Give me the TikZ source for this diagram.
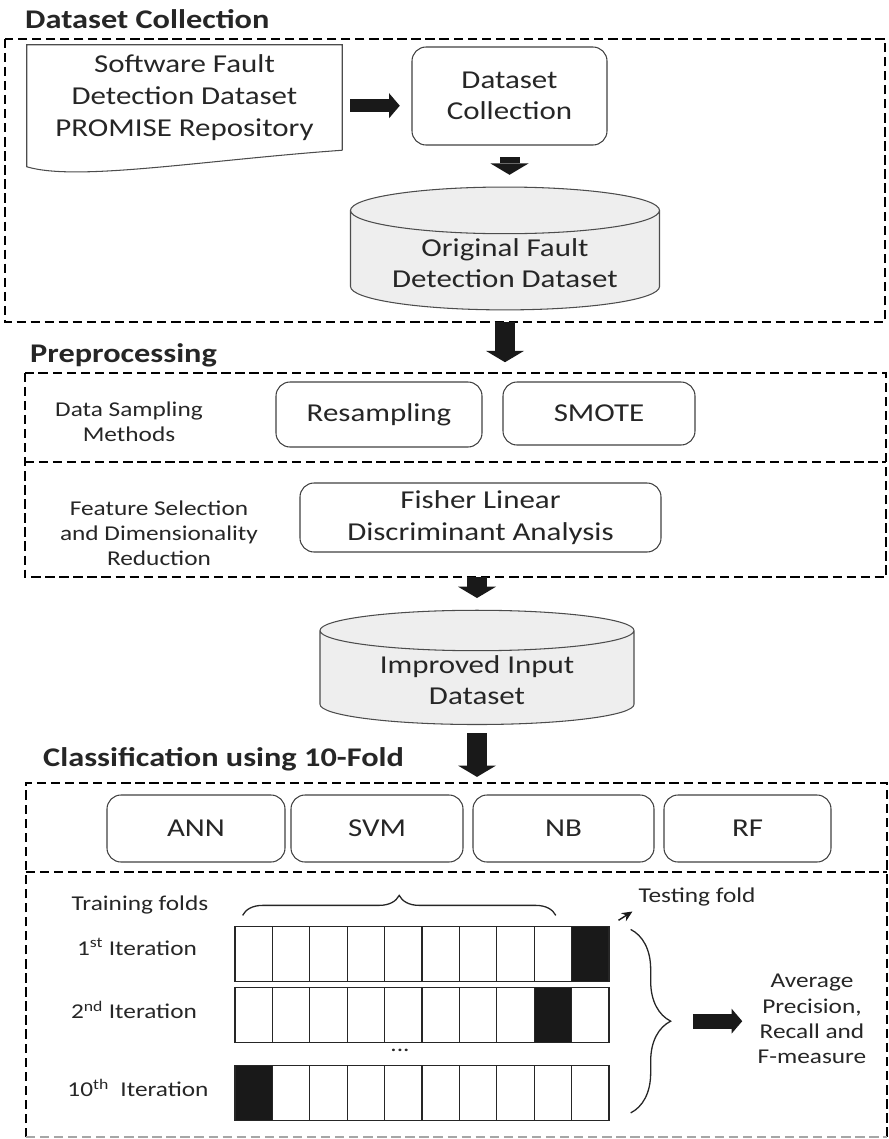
\documentclass[tikz,border=0pt]{standalone}
\usepackage{fontspec}
\setmainfont{Carlito}[FakeStretch=1.2]
\usetikzlibrary{arrows.meta,decorations.pathreplacing,shapes.geometric,positioning}

\definecolor{inkgray}{HTML}{262626}
\definecolor{drumfill}{HTML}{EEEEEE}

\begin{document}
\begin{tikzpicture}[x=0.03cm, y=-0.03cm,
  every node/.style={text=inkgray, font=\fontsize{22}{27}\selectfont},
  grptitle/.style={anchor=base west, inner sep=0pt, font=\fontsize{23}{28}\selectfont\bfseries},
  grpline/.style={draw=black, line width=1.6pt, dash pattern=on 8pt off 4pt},
  procbox/.style={draw=black!75, line width=0.9pt, rounded corners=12pt, align=center},
  drum/.style={cylinder, shape border rotate=90, shape aspect=0.2, draw=black!70, line width=0.9pt, fill=drumfill, align=center},
  smalltext/.style={align=center, font=\fontsize{18}{21.5}\selectfont},
  fold/.style={draw=black!85, line width=1pt, minimum width=1.122cm, minimum height=1.65cm, inner sep=0pt},
  downarrow/.style={draw=black!90, line width=0.6cm, -{Triangle[length=0.34cm 0 1, width=1.14cm 0 1, line width=0pt 0 0]}},
  sidearrow/.style={draw=black!90, line width=0.4cm, -{Triangle[length=0.32cm 0 1, width=0.75cm 0 1, line width=0pt 0 0]}}]

  \useasboundingbox (0,0) rectangle (889,1139);

  % Dataset collection
  \node[grptitle] (ttlcollect) at (25,28) {Dataset Collection};
  \node[inner sep=0pt, minimum width=26.4cm, minimum height=8.49cm] (grpcollect) at (445,180.5) {};
  \draw[grpline] (grpcollect.north west) rectangle (grpcollect.south east);
  \node[align=center, inner sep=0pt, minimum width=9.45cm, minimum height=3.15cm] (swdoc) at (184.5,97.5) {Software Fault\\Detection Dataset\\PROMISE Repository};
  \draw[draw=black!70, line width=0.9pt] (swdoc.south east) -- (swdoc.north east) -- (swdoc.north west) -- ++(0,122)
    .. controls +(50,15) and +(-140,10) .. (swdoc.south east);
  \node[procbox, minimum width=5.85cm, minimum height=2.94cm] (dcoll) at (509.5,96) {Dataset\\Collection};
  \node[drum, minimum width=9.27cm, minimum height=3.3cm] (origdb) at (505,263) {Original Fault\\Detection Dataset};

  \draw[sidearrow, shorten <=7pt, shorten >=10pt] ([yshift=-7pt]swdoc.east) -- ([yshift=-7pt]swdoc.east -| dcoll.west);
  \draw[downarrow, shorten <=10pt, shorten >=10pt] (dcoll.south) -- (dcoll.south |- origdb.north);

  % Preprocessing
  \node[grptitle] (ttlprep) at (30,362) {Preprocessing};
  \node[inner sep=0pt, minimum width=25.83cm, minimum height=6.12cm] (grpprep) at (455.5,475) {};
  \draw[grpline] (grpprep.north west) rectangle (grpprep.south east);
  \draw[grpline] (grpprep.west |- 0,462) -- (grpprep.east |- 0,462);
  \node[smalltext] (sampnote) at (129,422) {Data Sampling\\Methods};
  \node[procbox, minimum width=6.18cm, minimum height=1.95cm] (resamp) at (379,414.5) {Resampling};
  \node[procbox, minimum width=5.76cm, minimum height=1.89cm] (smote) at (599,413.5) {SMOTE};
  \node[smalltext] (featnote) at (159,533) {Feature Selection\\and Dimensionality\\Reduction};
  \node[procbox, minimum width=10.83cm, minimum height=2.07cm] (fisher) at (480.5,517.5) {Fisher Linear\\Discriminant Analysis};

  \draw[downarrow, shorten >=9pt] (grpcollect.south -| origdb) -- (grpprep.north -| origdb);

  % Improved dataset
  \node[drum, minimum width=9.42cm, minimum height=3.21cm] (impdb) at (477,680) {Improved Input\\Dataset};
  \draw[downarrow, shorten >=10pt] (grpprep.south -| impdb) -- (impdb.north);

  % Classification
  \node[grptitle] (ttlclass) at (43,766) {Classification using 10-Fold};
  \node[inner sep=0pt, minimum width=25.83cm, minimum height=10.62cm] (grpclass) at (456.5,960) {};
  \draw[grpline] (grpclass.south west) -- (grpclass.north west) -- (grpclass.north east) -- (grpclass.south east);
  \draw[grpline, draw=black!35] (grpclass.south west) -- (grpclass.south east);
  \draw[grpline] (grpclass.west |- 0,872) -- (grpclass.east |- 0,872);
  \draw[downarrow, shorten <=7pt, shorten >=5pt] (impdb.south) -- (impdb.south |- grpclass.north);

  \node[procbox, minimum width=5.34cm, minimum height=2.01cm] (ann) at (196,828.5) {ANN};
  \node[procbox, minimum width=5.16cm, minimum height=2.01cm] (svm) at (377,828.5) {SVM};
  \node[procbox, minimum width=5.43cm, minimum height=2.01cm] (nb) at (563.5,828.5) {NB};
  \node[procbox, minimum width=5.01cm, minimum height=2.01cm] (rf) at (747.5,828.5) {RF};

  % folds
  \foreach \r/\yy/\blk in {1/954/10, 2/1015/9, 3/1093/1}
    \foreach \c in {1,...,10} {
      \ifnum\c=\blk \def\cellfill{black!90}\else\def\cellfill{white}\fi
      \node[fold, fill=\cellfill] (f\r-\c) at ({235+37.4*(\c-0.5)},\yy) {};
    }

  \node[smalltext] (trainlbl) at (140,905) {Training folds};
  \node[smalltext] (iter1) at (137,947) {1\textsuperscript{st} Iteration};
  \node[smalltext] (iter2) at (134,1010) {2\textsuperscript{nd} Iteration};
  \node[smalltext] (iter10) at (138,1088) {10\textsuperscript{th}\ \ Iteration};
  \node[smalltext, anchor=base] (moredots) at (400,1051) {...};

  \draw[draw=black!85, line width=1.1pt, decorate, decoration={brace, amplitude=0.6cm}]
    ([xshift=7pt, yshift=9pt]f1-1.north west) -- ([xshift=-14pt, yshift=9pt]f1-9.north east);

  \node[smalltext] (testlbl) at (697,897) {Testing fold};
  \draw[draw=black!90, line width=1.2pt, -{Stealth[length=9pt, width=8pt]}, shorten <=9pt, shorten >=2pt]
    (f1-10.north east) -- (testlbl.south west);

  \draw[draw=black!85, line width=1.1pt, decorate, decoration={brace, amplitude=1.2cm}]
    ([xshift=18pt, yshift=-3pt]f1-10.north east) -- ([xshift=18pt, yshift=7pt]f3-10.south east)
    coordinate[pos=0.5, xshift=1.2cm] (bracetip);

  \node[smalltext, inner sep=0pt] (avgres) at (812,1019) {Average\\Precision,\\Recall and\\F-measure};
  \draw[sidearrow, line width=0.45cm, shorten <=19pt, shorten >=13pt] (bracetip) -- (bracetip -| avgres.west);
\end{tikzpicture}
\end{document}
